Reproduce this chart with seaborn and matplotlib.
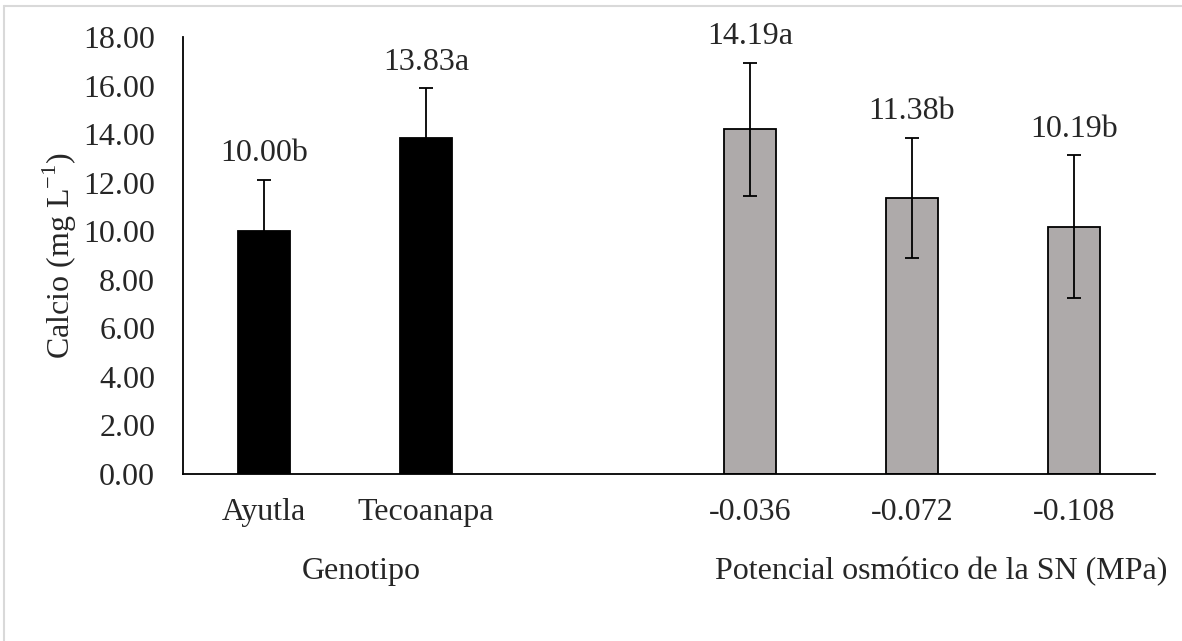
import matplotlib
matplotlib.use("Agg")
import matplotlib.pyplot as plt
import matplotlib.lines as mlines
import seaborn as sns
import pandas as pd
import numpy as np

# ---- data ----
categories = ["Ayutla", "Tecoanapa", "-0.036", "-0.072", "-0.108"]
groups = ["Genotipo", "Genotipo", "Potencial", "Potencial", "Potencial"]
values = [10.00, 13.83, 14.19, 11.38, 10.19]
errors = [2.10, 2.05, 2.75, 2.48, 2.93]
letters = ["b", "a", "a", "b", "b"]
axis_order = ["Ayutla", "Tecoanapa", " ", "-0.036", "-0.072", "-0.108"]
group_titles = ["Genotipo", "Potencial osmótico de la SN (MPa)"]
y_ticks = [0, 2, 4, 6, 8, 10, 12, 14, 16, 18]

df = pd.DataFrame({"cat": categories, "grupo": groups, "val": values, "err": errors})

sns.set_theme(style="white")
plt.rcParams["font.family"] = ["Liberation Serif", "DejaVu Serif"]
plt.rcParams["mathtext.fontset"] = "custom"
plt.rcParams["mathtext.rm"] = "Liberation Serif"

FS = 23

fig = plt.figure(figsize=(11.82, 6.41), dpi=100)
ax = fig.add_axes([183 / 1182, 1 - 474 / 641, (1155 - 183) / 1182, (474 - 37) / 641])

palette = {"Genotipo": "#000000", "Potencial": "#AEAAAA"}
sns.barplot(data=df, x="cat", y="val", hue="grupo", order=axis_order,
            palette=palette, saturation=1, dodge=False, width=0.32,
            edgecolor="black", linewidth=1.3, legend=False, errorbar=None, ax=ax)

pos = [axis_order.index(c) for c in categories]
ax.errorbar(pos, values, yerr=errors, fmt="none", ecolor="black",
            elinewidth=1.3, capsize=5, capthick=1.3, zorder=5)

for p, v, e, l in zip(pos, values, errors, letters):
    ax.annotate(f"{v:.2f}{l}", xy=(p, v + e), xytext=(0, 19),
                textcoords="offset points", ha="center", va="center",
                fontsize=FS)

ax.set_xlim(-0.5, len(axis_order) - 0.5)
ax.set_ylim(0, 18)
ax.set_yticks(y_ticks)
ax.set_yticklabels([f"{t:.2f}" for t in y_ticks], fontsize=FS)
ax.tick_params(axis="x", length=0, pad=17, labelsize=FS)
ax.tick_params(axis="y", length=0, pad=20)
ax.set_xlabel("")
ax.set_ylabel("Calcio (mg L$^{\\mathregular{-1}}$)", fontsize=FS, labelpad=3)

for s in ["top", "right"]:
    ax.spines[s].set_visible(False)
for s in ["left", "bottom"]:
    ax.spines[s].set_color("black")
    ax.spines[s].set_linewidth(1.3)

trans = matplotlib.transforms.blended_transform_factory(ax.transData, fig.transFigure)
ax.text(0.6, 1 - 572 / 641, group_titles[0], transform=trans, ha="center",
        va="center", fontsize=FS)
ax.text(4.18, 1 - 572 / 641, group_titles[1], transform=trans, ha="center",
        va="center", fontsize=FS)

# chart-area border (top and left edges visible)
fig.add_artist(mlines.Line2D([4 / 1182, 1], [1 - 6 / 641, 1 - 6 / 641],
                             transform=fig.transFigure, color="#D9D9D9", lw=1.5))
fig.add_artist(mlines.Line2D([4 / 1182, 4 / 1182], [0, 1 - 6 / 641],
                             transform=fig.transFigure, color="#D9D9D9", lw=1.5))

fig.savefig("out.png", dpi=100)
